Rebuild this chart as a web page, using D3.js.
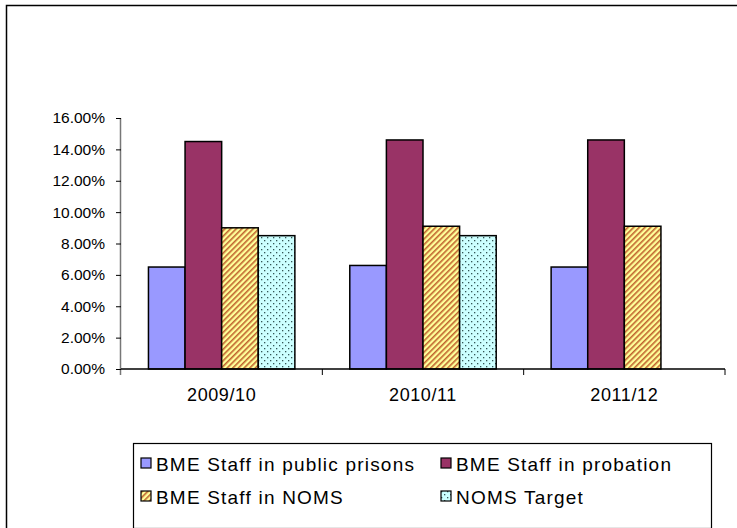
<!DOCTYPE html>
<html>
<head>
<meta charset="utf-8">
<script src="https://cdn.jsdelivr.net/npm/d3@7"></script>
<style>
  body { margin: 0; background: #fff; }
  text { font-family: "Liberation Sans", Arial, sans-serif; fill: #000; }
</style>
</head>
<body>
<div id="chart"></div>
<script>
// data
const years = ["2009/10", "2010/11", "2011/12"];
const seriesNames = ["BME Staff in public prisons", "BME Staff in probation", "BME Staff in NOMS", "NOMS Target"];
const prisons   = [6.5, 6.6, 6.5];
const probation = [14.5, 14.6, 14.6];
const noms      = [9.0, 9.1, 9.1];
const target    = [8.5, 8.5, null];
const yTicks = [0, 2, 4, 6, 8, 10, 12, 14, 16];

const allSeries = [prisons, probation, noms, target];
const fills = ["#9999ff", "#993366", "url(#stripes)", "url(#dots)"];

const width = 737, height = 528;
const svg = d3.select("#chart").append("svg")
    .attr("width", width)
    .attr("height", height);

// patterns
const defs = svg.append("defs");
const stripes = defs.append("pattern")
    .attr("id", "stripes")
    .attr("patternUnits", "userSpaceOnUse")
    .attr("width", 4).attr("height", 4)
    .attr("patternTransform", "rotate(45)");
stripes.append("rect").attr("width", 4).attr("height", 4).attr("fill", "#ffff99");
stripes.append("rect").attr("width", 1.6).attr("height", 4).attr("fill", "#c0642e");

const dots = defs.append("pattern")
    .attr("id", "dots")
    .attr("patternUnits", "userSpaceOnUse")
    .attr("width", 6).attr("height", 6);
dots.append("rect").attr("width", 6).attr("height", 6).attr("fill", "#ccffff");
dots.append("rect").attr("x", 0).attr("y", 0).attr("width", 1.3).attr("height", 1.3).attr("fill", "#335555");
dots.append("rect").attr("x", 3).attr("y", 3).attr("width", 1.3).attr("height", 1.3).attr("fill", "#335555");

// outer frame (only top and left edges are in view)
svg.append("path")
    .attr("d", "M6.5,528 V5.5 H737")
    .attr("fill", "none")
    .attr("stroke", "#000")
    .attr("stroke-width", 1.5);

const plot = { left: 121, right: 725, top: 118, bottom: 369 };

const x0 = d3.scaleBand()
    .domain(years)
    .range([plot.left, plot.right]);

const x1 = d3.scaleBand()
    .domain(d3.range(seriesNames.length))
    .range([0, x0.bandwidth()])
    .paddingOuter(0.75);

const y = d3.scaleLinear()
    .domain([0, 16])
    .range([plot.bottom, plot.top]);

// bars
allSeries.forEach((vals, si) => {
    svg.append("g")
        .selectAll("rect")
        .data(vals.map((v, i) => ({ year: years[i], v: v })).filter(d => d.v != null))
        .join("rect")
        .attr("x", d => x0(d.year) + x1(si))
        .attr("y", d => y(d.v))
        .attr("width", x1.bandwidth())
        .attr("height", d => y(0) - y(d.v))
        .attr("fill", fills[si])
        .attr("stroke", "#000")
        .attr("stroke-width", 1.5);
});

// y axis
const yAxis = svg.append("g")
    .attr("transform", `translate(${plot.left},0)`)
    .call(d3.axisLeft(y).tickValues(yTicks).tickSize(5).tickPadding(11)
        .tickFormat(d => d.toFixed(2) + "%"));
yAxis.select(".domain").attr("d", `M-0.5,${plot.top}V${plot.bottom + 6}`).attr("stroke", "#777").attr("stroke-width", 1.5);
yAxis.selectAll("text").attr("font-size", 15.5).attr("font-family", "Liberation Sans, Arial, sans-serif");

// x axis
const xAxis = svg.append("g")
    .attr("transform", `translate(0,${plot.bottom})`)
    .call(d3.axisBottom(x0).tickSize(0).tickPadding(19));
xAxis.select(".domain").attr("d", `M${plot.left},0H${plot.right}`).attr("stroke", "#000").attr("stroke-width", 1.5);
xAxis.selectAll("text").attr("font-size", 18).attr("letter-spacing", 0.6).attr("font-family", "Liberation Sans, Arial, sans-serif");
// boundary ticks between categories
xAxis.append("g")
    .selectAll("line")
    .data(years.slice(1).concat(["end"]))
    .join("line")
    .attr("x1", d => d === "end" ? plot.right : x0(d))
    .attr("x2", d => d === "end" ? plot.right : x0(d))
    .attr("y1", 0).attr("y2", 6)
    .attr("stroke", "#000");

// legend
const legend = svg.append("g");
legend.append("rect")
    .attr("x", 133.5).attr("y", 443.5)
    .attr("width", 578).attr("height", 85)
    .attr("fill", "#fff")
    .attr("stroke", "#000")
    .attr("stroke-width", 1.2);

const legendPos = [[141, 464], [441, 464], [141, 497], [441, 497]];
seriesNames.forEach((name, i) => {
    const g = legend.append("g").attr("transform", `translate(${legendPos[i][0]},${legendPos[i][1]})`);
    g.append("rect")
        .attr("x", 0).attr("y", -6)
        .attr("width", 10).attr("height", 10)
        .attr("fill", fills[i])
        .attr("stroke", "#000")
        .attr("stroke-width", 1.2);
    g.append("text")
        .attr("x", 15).attr("y", 6.5)
        .attr("font-size", 19)
        .attr("letter-spacing", 1.2)
        .text(name);
});
</script>
</body>
</html>
